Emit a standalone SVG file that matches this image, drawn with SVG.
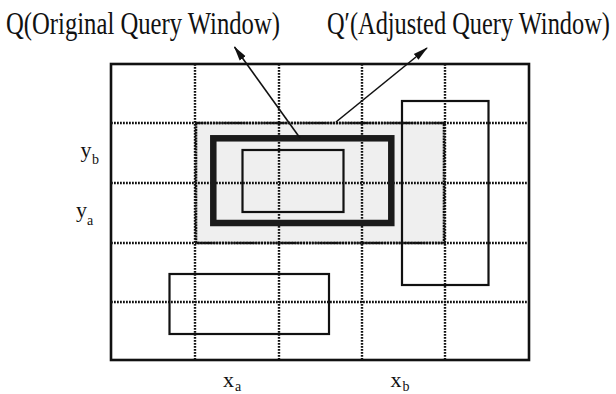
<svg xmlns="http://www.w3.org/2000/svg" width="616" height="394" viewBox="0 0 616 394">
  <style>
    .lbl { font-family: "Liberation Serif", "Times New Roman", serif; fill: #111; }
    .title { font-size: 31px; }
    .axis { font-size: 22px; }
    .sub { font-size: 14px; }
    .grid { stroke: #111; stroke-width: 2.4; stroke-dasharray: 1.8 1.2; fill: none; }
    .box { fill: none; stroke: #111; stroke-width: 2.2; }
    .arrow { stroke: #111; stroke-width: 1.6; fill: none; marker-end: url(#head); }
  </style>
  <defs>
    <marker id="head" markerUnits="userSpaceOnUse" markerWidth="15" markerHeight="9" refX="14" refY="4.5" orient="auto">
      <path d="M0,0.8 L15,4.5 L0,8.2 Z" fill="#111"/>
    </marker>
  </defs>
  <rect width="616" height="394" fill="#fff"/>

  <!-- titles, set in a horizontally condensed serif -->
  <g id="titles" transform="scale(0.79 1)">
    <text class="lbl title" x="7.6" y="34" textLength="346.8" lengthAdjust="spacingAndGlyphs">Q(Original Query Window)</text>
    <text class="lbl title" x="413.9" y="34" textLength="358.2" lengthAdjust="spacingAndGlyphs">Q′(Adjusted Query Window)</text>
  </g>

  <!-- adjusted window shading -->
  <g id="q-adjusted-fill">
    <rect x="196" y="123" width="248" height="120" fill="#efefef"/>
  </g>

  <!-- space with grid -->
  <g id="grid">
    <line class="grid" x1="195" y1="64" x2="195" y2="360"/>
    <line class="grid" x1="279" y1="64" x2="279" y2="360"/>
    <line class="grid" x1="362" y1="64" x2="362" y2="360"/>
    <line class="grid" x1="445" y1="64" x2="445" y2="360"/>
    <line class="grid" x1="111" y1="123" x2="529" y2="123"/>
    <line class="grid" x1="111" y1="183" x2="529" y2="183"/>
    <line class="grid" x1="111" y1="243" x2="529" y2="243"/>
    <line class="grid" x1="111" y1="302" x2="529" y2="302"/>
  </g>
  <g id="space">
    <rect x="111" y="64" width="418" height="296" fill="none" stroke="#111" stroke-width="2.6"/>
  </g>

  <!-- Q' border -->
  <g id="q-adjusted">
    <rect x="196" y="123" width="248" height="120" fill="none" stroke="#111" stroke-width="2.6" stroke-dasharray="2 0.8"/>
  </g>

  <!-- Q: original query window -->
  <g id="q-original">
    <rect x="213.3" y="138.3" width="178" height="84.7" fill="none" stroke="#1a1a1a" stroke-width="6.5"/>
  </g>

  <!-- data objects -->
  <g id="obj-inner">
    <rect class="box" x="242.5" y="150" width="101" height="62"/>
  </g>
  <g id="obj-right">
    <rect class="box" x="402" y="101" width="86.5" height="184"/>
  </g>
  <g id="obj-bottom">
    <rect class="box" x="169.5" y="274" width="159.5" height="60"/>
  </g>

  <!-- connectors -->
  <g id="connectors">
    <line class="arrow" x1="300" y1="138" x2="234.5" y2="47"/>
    <line class="arrow" x1="336" y1="122" x2="427" y2="48"/>
  </g>

  <!-- axis labels -->
  <g id="axis-labels">
    <text class="lbl axis" x="80.5" y="157">y<tspan class="sub" x="92" y="164">b</tspan></text>
    <text class="lbl axis" x="76" y="217">y<tspan class="sub" x="87" y="225">a</tspan></text>
    <text class="lbl axis" x="223" y="387">x<tspan class="sub" x="235" y="391">a</tspan></text>
    <text class="lbl axis" x="390.5" y="387">x<tspan class="sub" x="402.5" y="391">b</tspan></text>
  </g>
</svg>
